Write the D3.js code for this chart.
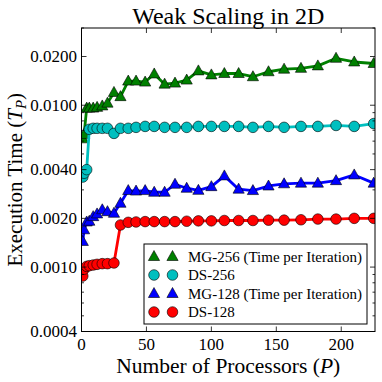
<!DOCTYPE html>
<html><head><meta charset="utf-8">
<script src="https://cdn.jsdelivr.net/npm/d3@7"></script>
<style>
html,body{margin:0;padding:0;background:#fff;}
</style></head>
<body><svg id="c" width="382" height="382" font-family="'Liberation Serif', 'DejaVu Serif', serif"></svg>
<script>
const procs = [1,2,4,6,9,12,16,20,25,30,36,42,49,56,64,72,81,90,100,110,121,132,144,156,169,182,196,210,225];
const mg256 = [0.0062,0.0066,0.0096,0.0096,0.0096,0.0097,0.0099,0.0103,0.0120,0.0113,0.0141,0.0141,0.0139,0.0156,0.0135,0.0137,0.0143,0.0163,0.0154,0.0157,0.0157,0.0150,0.0161,0.0167,0.0169,0.0175,0.0195,0.0185,0.0181];
const ds256 = [0.0036,0.0038,0.0040,0.0071,0.0072,0.0072,0.0072,0.0072,0.0067,0.0072,0.0072,0.0073,0.0074,0.0074,0.0073,0.0073,0.0073,0.0074,0.0074,0.0074,0.0074,0.0073,0.0074,0.0073,0.0074,0.0074,0.0075,0.0074,0.0077];
const mg128 = [0.00144,0.0017,0.0019,0.00192,0.00205,0.00213,0.00226,0.0022,0.00215,0.00248,0.00297,0.00295,0.00297,0.0029,0.0029,0.00325,0.00307,0.00298,0.00314,0.00366,0.00303,0.00297,0.00317,0.00327,0.0033,0.0033,0.00342,0.00371,0.0033];
const ds128 = [0.00088,0.00097,0.00101,0.00102,0.00103,0.00104,0.00105,0.00105,0.00106,0.00182,0.00189,0.0019,0.00191,0.00191,0.00191,0.00191,0.00192,0.00193,0.00193,0.00194,0.00194,0.00194,0.00195,0.00195,0.00196,0.00198,0.00198,0.0020,0.0020];
const seriesNames = ["MG-256 (Time per Iteration)","DS-256","MG-128 (Time per Iteration)","DS-128"];
const seriesColors = ["#008000","#00bfbf","#0000ff","#ff0000"];
const seriesMarkers = ["triangle","circle","triangle","circle"];
const xTicks = [0,50,100,150,200];
const yTicks = [0.0004,0.001,0.002,0.004,0.01,0.02];
const yTickLabels = ["0.0004","0.0010","0.0020","0.0040","0.0100","0.0200"];
const yMinor = [0.0005,0.0006,0.0007,0.0008,0.0009,0.003,0.005,0.006,0.007,0.008,0.009,0.03];
const titleText = "Weak Scaling in 2D";
const FONT = "'Liberation Serif', 'DejaVu Serif', serif";

const L=81.5, R=375, T=28, B=331.5;
const svg = d3.select("#c");
const x = d3.scaleLinear().domain([0,226]).range([L,R]);
const y = d3.scaleLog().domain([0.0004,0.03]).range([B,T]);

svg.append("defs").append("clipPath").attr("id","clip")
  .append("rect").attr("x",L).attr("y",T).attr("width",R-L).attr("height",B-T);

const allSeries = [mg256, ds256, mg128, ds128];
const triPath = "M0,-6L5.6,4L-5.6,4Z";
function drawMarker(g, type, color){
  if(type==="triangle"){
    g.append("path").attr("d",triPath).attr("fill",color).attr("stroke","#000").attr("stroke-width",0.6);
  } else {
    g.append("circle").attr("r",5.3).attr("fill",color).attr("stroke","#000").attr("stroke-width",0.6);
  }
}
function txt(sel){ return sel.append("text").attr("font-family",FONT).attr("fill","#000"); }

const plot = svg.append("g").attr("clip-path","url(#clip)");
allSeries.forEach((vals,i)=>{
  const data = procs.map((p,j)=>[p,vals[j]]);
  const line = d3.line().x(d=>x(d[0])).y(d=>y(d[1]));
  plot.append("path").datum(data).attr("d",line).attr("fill","none")
    .attr("stroke",seriesColors[i]).attr("stroke-width",2.8).attr("stroke-linejoin","round");
  data.forEach(d=>{
    const g = plot.append("g").attr("transform",`translate(${x(d[0])},${y(d[1])})`);
    drawMarker(g, seriesMarkers[i], seriesColors[i]);
  });
});

// frame
svg.append("rect").attr("x",L).attr("y",T).attr("width",R-L).attr("height",B-T)
  .attr("fill","none").attr("stroke","#000").attr("stroke-width",1);

// ticks (inward, all sides)
const tk = svg.append("g").attr("stroke","#000").attr("stroke-width",0.8);
xTicks.forEach(v=>{
  tk.append("line").attr("x1",x(v)).attr("x2",x(v)).attr("y1",B).attr("y2",B-5);
  tk.append("line").attr("x1",x(v)).attr("x2",x(v)).attr("y1",T).attr("y2",T+5);
});
yTicks.forEach(v=>{
  tk.append("line").attr("x1",L).attr("x2",L+5).attr("y1",y(v)).attr("y2",y(v));
  tk.append("line").attr("x1",R).attr("x2",R-5).attr("y1",y(v)).attr("y2",y(v));
});
yMinor.forEach(v=>{
  tk.append("line").attr("x1",L).attr("x2",L+2.5).attr("y1",y(v)).attr("y2",y(v));
  tk.append("line").attr("x1",R).attr("x2",R-2.5).attr("y1",y(v)).attr("y2",y(v));
});

// tick labels
xTicks.forEach(v=>{
  txt(svg).attr("x",x(v)).attr("y",349.5).attr("text-anchor","middle")
    .attr("font-size",17).text(v);
});
yTicks.forEach((v,i)=>{
  txt(svg).attr("x",77).attr("y",y(v)+5.5).attr("text-anchor","end")
    .attr("font-size",17).text(yTickLabels[i]);
});

// title
txt(svg).attr("x",(L+R)/2).attr("y",24).attr("text-anchor","middle")
  .attr("font-size",24).text(titleText);

// x label
const xl = txt(svg).attr("x",(L+R)/2).attr("y",373).attr("text-anchor","middle")
  .attr("font-size",21.5);
xl.append("tspan").text("Number of Processors (");
xl.append("tspan").attr("font-style","italic").text("P");
xl.append("tspan").text(")");

// y label
const yl = txt(svg).attr("transform",`translate(21.5,${(T+B)/2}) rotate(-90)`)
  .attr("text-anchor","middle").attr("font-size",21);
yl.append("tspan").text("Execution Time (");
yl.append("tspan").attr("font-style","italic").text("T");
yl.append("tspan").attr("font-style","italic").attr("font-size",15).attr("dy",4).text("P");
yl.append("tspan").attr("dy",-4).text(")");

// legend
const lg = svg.append("g");
lg.append("rect").attr("x",144).attr("y",244).attr("width",223).attr("height",80)
  .attr("fill","#fff").attr("stroke","#000").attr("stroke-width",1);
seriesNames.forEach((name,i)=>{
  const cy = 256.5 + i*18.5;
  [154,172.5].forEach(cx=>{
    const g = lg.append("g").attr("transform",`translate(${cx},${cy})`);
    drawMarker(g, seriesMarkers[i], seriesColors[i]);
  });
  txt(lg).attr("x",188).attr("y",cy+5).attr("font-size",15).text(name);
});
</script></body></html>
